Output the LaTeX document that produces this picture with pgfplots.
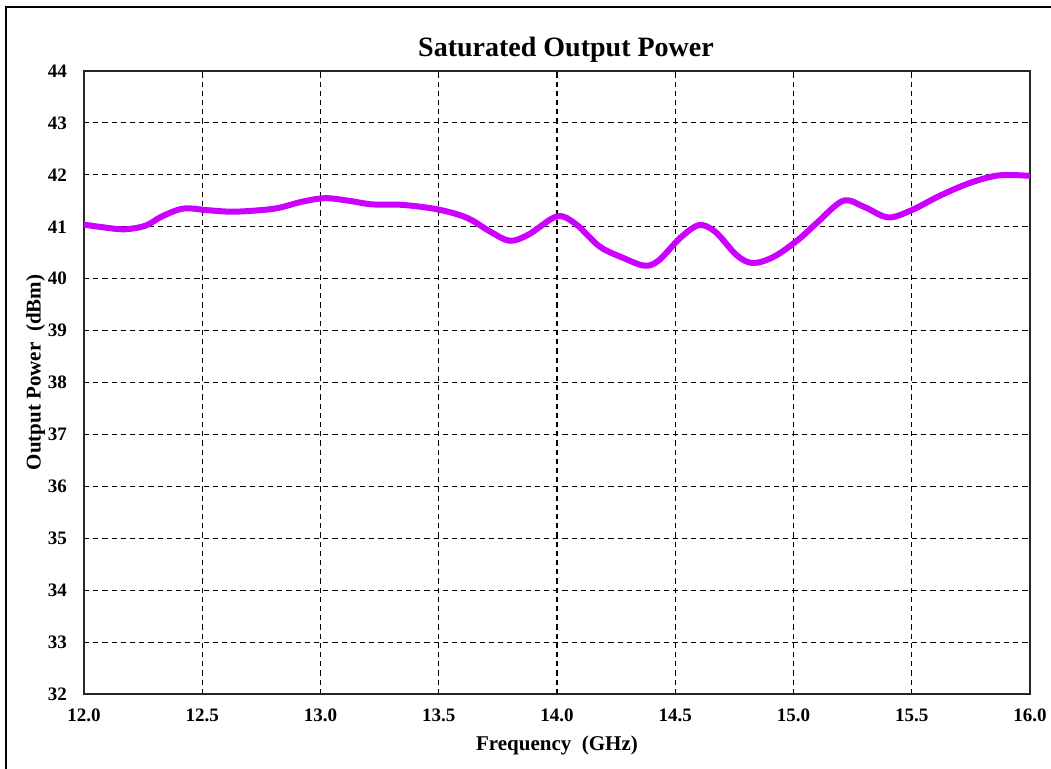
\documentclass[border=0pt]{standalone}
\usepackage{fontspec}
\setmainfont{Liberation Serif}
\usepackage{pgfplots}
\pgfplotsset{compat=1.18}
\definecolor{curve}{RGB}{204,0,255}
\begin{document}
\begin{tikzpicture}
% page extent (image 1051x769 px, 1px = 0.5pt, axis bottom-left at px (84,694))
\useasboundingbox (-42pt,-37.5pt) rectangle (483.5pt,347pt);
\draw[line width=0.9pt] (-39pt,-40pt) -- (-39pt,343.5pt) -- (490pt,343.5pt);
\begin{axis}[
    at={(0,0)}, anchor=south west,
    scale only axis, width=473pt, height=311.5pt,
    xmin=12, xmax=16, ymin=32, ymax=44,
    xtick={12,12.5,...,16}, ytick={32,33,...,44},
    xticklabel style={/pgf/number format/fixed, /pgf/number format/fixed zerofill,
        /pgf/number format/precision=1, yshift=-4pt},
    /pgf/number format/assume math mode=true,
    ticklabel style={font=\fontsize{9.5}{10}\selectfont\bfseries},
    major tick length=0pt,
    yticklabel style={xshift=-5pt},
    grid=major,
    major grid style={black, line width=0.55pt, dash pattern=on 2.6pt off 2pt},
    axis line style={line width=0.8pt, black!85},
    title={Saturated Output Power},
    title style={font=\fontsize{14}{15}\selectfont\bfseries, yshift=-5.5pt, xshift=4.5pt},
    xlabel={Frequency \ (GHz)},
    ylabel={Output Power \ (dBm)},
    label style={font=\fontsize{10.5}{12}\selectfont\bfseries},
    xlabel style={yshift=0pt},
    ylabel style={yshift=-5.5pt, xshift=5pt},
]
\addplot[curve, line width=3pt, smooth, tension=0.55] coordinates {
(12.00,41.04) (12.08,40.99) (12.17,40.95) (12.26,41.02) (12.33,41.20) (12.42,41.35)
(12.52,41.32) (12.62,41.29) (12.72,41.31) (12.82,41.36) (12.92,41.48) (13.02,41.55)
(13.12,41.50) (13.22,41.43) (13.35,41.42) (13.50,41.33) (13.62,41.17) (13.72,40.90)
(13.80,40.73) (13.88,40.85) (14.00,41.20) (14.08,41.05) (14.18,40.62) (14.28,40.40)
(14.37,40.25) (14.43,40.35) (14.52,40.78) (14.60,41.03) (14.67,40.90) (14.76,40.45)
(14.83,40.30) (14.92,40.43) (15.02,40.75) (15.10,41.08) (15.21,41.50) (15.30,41.38)
(15.40,41.18) (15.50,41.32) (15.62,41.60) (15.75,41.85) (15.87,41.99) (16.00,41.98)
};
\end{axis}
\end{tikzpicture}
\end{document}
